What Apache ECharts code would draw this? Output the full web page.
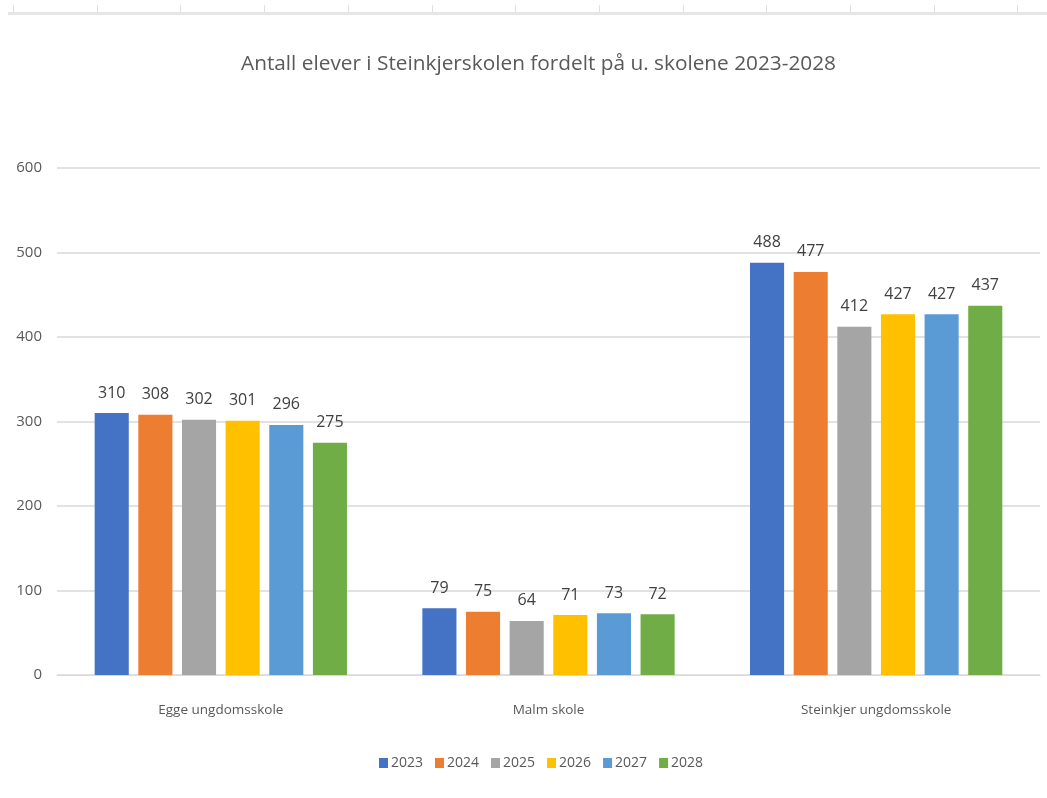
<!DOCTYPE html>
<html>
<head>
<meta charset="utf-8">
<script src="https://cdn.jsdelivr.net/npm/echarts@6/dist/echarts.min.js"></script>
<style>
  html, body { margin: 0; padding: 0; background: #fff; }
  #chart { width: 1047px; height: 798px; }
</style>
</head>
<body>
<div id="chart"></div>
<script>
const categories = ['Egge ungdomsskole', 'Malm skole', 'Steinkjer ungdomsskole']
const years = ['2023', '2024', '2025', '2026', '2027', '2028']
const values2023 = [310, 79, 488]
const values2024 = [308, 75, 477]
const values2025 = [302, 64, 412]
const values2026 = [301, 71, 427]
const values2027 = [296, 73, 427]
const values2028 = [275, 72, 437]
const yTicks = [0, 100, 200, 300, 400, 500, 600]

const seriesValues = [values2023, values2024, values2025, values2026, values2027, values2028]
const colors = ['#4472C4', '#ED7D31', '#A5A5A5', '#FFC000', '#5B9BD5', '#70AD47']
const font = '"Open Sans", sans-serif'

const chart = echarts.init(document.getElementById('chart'), null, { renderer: 'canvas' })

// faint ruler strip along the top edge of the screenshot
const ruler = [{
  type: 'rect',
  shape: { x: 8, y: 12, width: 1039, height: 3 },
  style: { fill: '#e6e6e6' },
  silent: true,
}]
for (let x = 13; x < 1047; x += 83.7) {
  ruler.push({
    type: 'rect',
    shape: { x: Math.round(x), y: 5, width: 1, height: 8 },
    style: { fill: '#e0e0e0' },
    silent: true,
  })
}

chart.setOption({
  animation: false,
  textStyle: { fontFamily: font },
  title: {
    text: 'Antall elever i Steinkjerskolen fordelt på u. skolene 2023-2028',
    left: 236,
    top: 49,
    textStyle: { fontFamily: font, fontSize: 20.8, fontWeight: 'normal', color: '#595959' },
  },
  legend: {
    data: years,
    bottom: 23,
    left: 374,
    icon: 'rect',
    itemWidth: 9,
    itemHeight: 10,
    itemGap: 12,
    textStyle: { fontFamily: font, fontSize: 14, color: '#595959', padding: [0, 0, 0, -2] },
  },
  graphic: ruler,
  grid: { left: 57, right: 7, top: 168, bottom: 123, containLabel: false },
  xAxis: {
    type: 'category',
    data: categories,
    axisLine: { lineStyle: { color: '#d9d9d9' } },
    axisTick: { show: false },
    axisLabel: { fontFamily: font, fontSize: 13.5, color: '#595959', margin: 28 },
  },
  yAxis: {
    type: 'value',
    min: yTicks[0],
    max: yTicks[yTicks.length - 1],
    interval: 100,
    axisLine: { show: false },
    axisTick: { show: false },
    splitLine: { lineStyle: { color: '#d9d9d9', width: 1.5 } },
    axisLabel: { fontFamily: font, fontSize: 15, color: '#595959', margin: 15 },
  },
  series: years.map((y, i) => ({
    name: y,
    type: 'bar',
    data: seriesValues[i],
    barGap: '28%',
    barCategoryGap: '23%',
    itemStyle: { color: colors[i] },
    label: {
      show: true,
      position: 'top',
      distance: 12,
      fontFamily: font,
      fontSize: 16,
      color: '#404040',
    },
  })),
})
</script>
</body>
</html>
